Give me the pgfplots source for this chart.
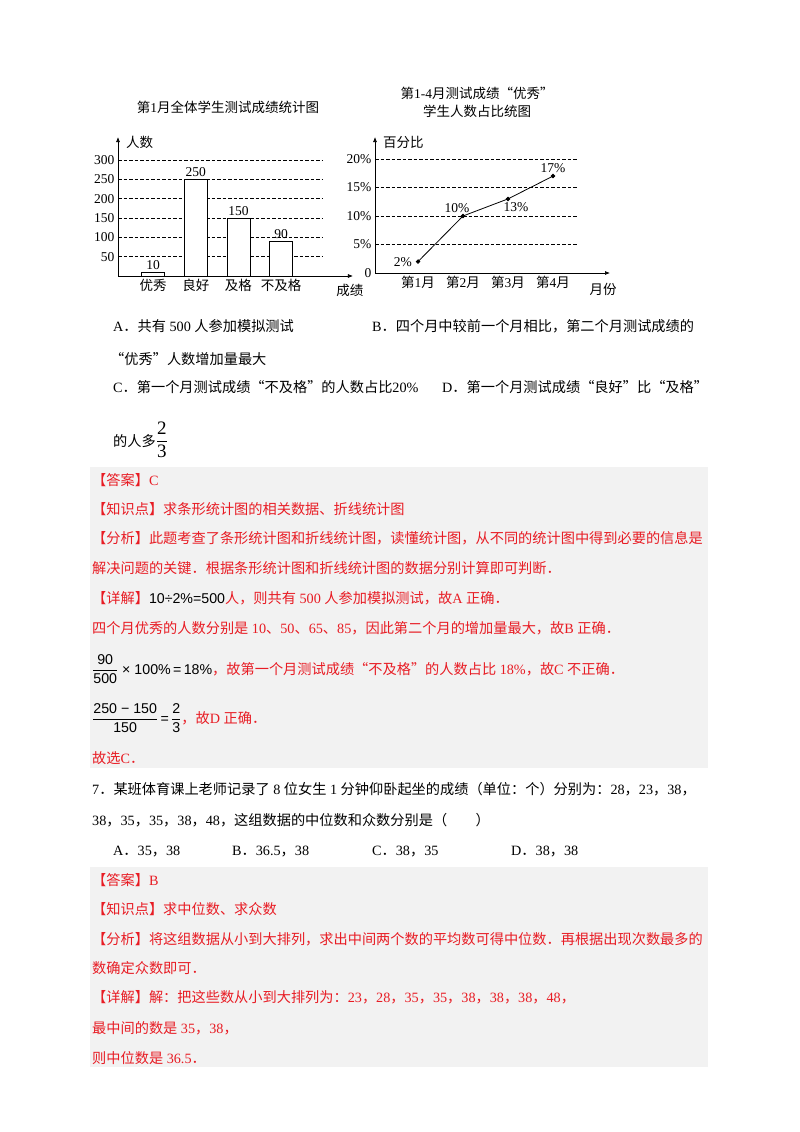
\documentclass[border=0pt]{standalone}
\usepackage{fontspec}
\setmainfont{Liberation Serif}
\newfontfamily\cjk{Noto Sans CJK SC}
\newfontfamily\arial{Liberation Sans}
\usepackage{pgfplots}
\pgfplotsset{compat=1.18}
\usetikzlibrary{arrows.meta}

% switch to the CJK font for Chinese characters automatically
\XeTeXinterchartokenstate=1
\newXeTeXintercharclass\cjkcls
\makeatletter
\count@="2E80
\loop\XeTeXcharclass\count@=\cjkcls \advance\count@ 1 \ifnum\count@<"A000 \repeat
\count@="FF00
\loop\XeTeXcharclass\count@=\cjkcls \advance\count@ 1 \ifnum\count@<"FFF0 \repeat
\makeatother
\XeTeXcharclass"201C=\cjkcls
\XeTeXcharclass"201D=\cjkcls
\XeTeXinterchartoks 0 \cjkcls = {\cjk}
\XeTeXinterchartoks 4095 \cjkcls = {\cjk}
\XeTeXinterchartoks \cjkcls 0 = {\rmfamily}
\XeTeXinterchartoks \cjkcls 4095 = {\rmfamily}

\definecolor{ansred}{RGB}{232,28,36}
\definecolor{boxgray}{RGB}{242,242,242}

\begin{document}
\begin{tikzpicture}[x=1pt,y=-1pt,
  q/.style={anchor=base west,inner sep=0pt,font=\fontsize{14.2}{16}\selectfont},
  a/.style={q,text=ansred},
  ct/.style={inner sep=0pt,font=\fontsize{13.5}{15}\selectfont}]
\fill[white] (0,0) rectangle (800,1132);
\path[use as bounding box] (0,0) rectangle (800,1132);

% chart titles
\node[ct] at (228,107) {第1月全体学生测试成绩统计图};
\node[ct] at (477,93) {第1-4月测试成绩“优秀”};
\node[ct] at (477,111) {学生人数占比统图};

% bar chart
\begin{axis}[at={(118pt,-276pt)},anchor=south west,scale only axis,
  width=235pt,height=139pt,
  xmin=-0.82,xmax=4.68,ymin=0,ymax=359.5,
  axis lines=left,
  axis line style={line width=0.7pt,-{Latex[length=5pt,width=4pt]}},
  xtick={0,1,2,3},xticklabels={优秀,良好,及格,不及格},
  ytick={50,100,150,200,250,300},yticklabels={50,100,150,200,250,300},
  major tick length=0pt,
  tick label style={font=\fontsize{13.5}{15}\selectfont},
  ylabel={人数},xlabel={成绩},
  every axis y label/.style={at={(rel axis cs:0,1)},anchor=north west,inner sep=0pt,xshift=8pt,yshift=1pt,font=\fontsize{13.5}{15}\selectfont},
  every axis x label/.style={at={(rel axis cs:1,0)},anchor=north,inner sep=0pt,xshift=-3pt,yshift=-8pt,font=\fontsize{13.5}{15}\selectfont},
  ybar,bar width=23pt,
  nodes near coords,
  every node near coord/.append style={font=\fontsize{13.5}{15}\selectfont,inner sep=2pt},
  /pgf/number format/assume math mode=true,
  clip=false]
\pgfplotsinvokeforeach{50,100,150,200,250,300}{
  \draw[line width=0.6pt,dash pattern=on 3.5pt off 2pt] (axis cs:-0.82,#1) -- (axis cs:3.96,#1);}
\addplot[draw=black,fill=white,line width=0.9pt] coordinates {(0,10) (1,250) (2,150) (3,90)};
\end{axis}

% line chart
\begin{axis}[at={(375pt,-273pt)},anchor=south west,scale only axis,
  width=235pt,height=136pt,
  xmin=0.044,xmax=5.267,ymin=0,ymax=23.86,
  axis lines=left,
  axis line style={line width=0.7pt,-{Latex[length=5pt,width=4pt]}},
  xtick={1,2,3,4},xticklabels={第1月,第2月,第3月,第4月},
  ytick={0,5,10,15,20},yticklabels={0,5\%,10\%,15\%,20\%},
  major tick length=0pt,
  tick label style={font=\fontsize{13.5}{15}\selectfont},
  ylabel={百分比},xlabel={月份},
  every axis y label/.style={at={(rel axis cs:0,1)},anchor=north west,inner sep=0pt,xshift=8pt,yshift=1pt,font=\fontsize{13.5}{15}\selectfont},
  every axis x label/.style={at={(rel axis cs:1,0)},anchor=north,inner sep=0pt,xshift=-7pt,yshift=-10pt,font=\fontsize{13.5}{15}\selectfont},
  clip=false]
\pgfplotsinvokeforeach{5,10,15,20}{
  \draw[line width=0.6pt,dash pattern=on 3.5pt off 2pt] (axis cs:0.044,#1) -- (axis cs:4.556,#1);}
\addplot[black,line width=0.8pt,mark=*,mark size=1.8pt] coordinates {(1,2) (2,10) (3,13) (4,17)};
\node[ct,anchor=east,xshift=-6pt] at (axis cs:1,2) {2\%};
\node[ct,anchor=south,xshift=-6pt,yshift=3pt] at (axis cs:2,10) {10\%};
\node[ct,anchor=north,xshift=8pt,yshift=-3pt] at (axis cs:3,13) {13\%};
\node[ct,anchor=south,yshift=3pt] at (axis cs:4,17) {17\%};
\end{axis}

% question 6 options
\node[q] at (113,331) {A．共有 500 人参加模拟测试};
\node[q] at (372,331) {B．四个月中较前一个月相比，第二个月测试成绩的};
\node[q] at (110,364) {“优秀”人数增加量最大};
\node[q] at (113,392) {C．第一个月测试成绩“不及格”的人数占比20\%};
\node[q] at (442,392) {D．第一个月测试成绩“良好”比“及格”};
\node[q] at (113,446) {的人多{\fontsize{19}{20}\selectfont$\displaystyle\frac{\mbox{2}}{\mbox{3}}$}};

% answer box 1
\fill[boxgray] (90,467) rectangle (708,768);
\node[a] at (92,485) {【答案】C};
\node[a] at (92,514) {【知识点】求条形统计图的相关数据、折线统计图};
\node[a] at (92,543) {【分析】此题考查了条形统计图和折线统计图，读懂统计图，从不同的统计图中得到必要的信息是};
\node[a] at (92,573) {解决问题的关键．根据条形统计图和折线统计图的数据分别计算即可判断．};
\node[a] at (92,603) {【详解】{\color{black}\arial 10÷2\%=500}人，则共有 500 人参加模拟测试，故A 正确．};
\node[a] at (92,633) {四个月优秀的人数分别是 10、50、65、85，因此第二个月的增加量最大，故B 正确．};
\node[a] at (92,674) {{\color{black}\arial$\displaystyle\frac{\mbox{90}}{\mbox{500}}$ × 100\%\,=\,18\%}，故第一个月测试成绩“不及格”的人数占比 18\%，故C 不正确．};
\node[a] at (92,723) {{\color{black}\arial$\displaystyle\frac{\mbox{250 − 150}}{\mbox{150}}$\,=\,$\displaystyle\frac{\mbox{2}}{\mbox{3}}$}，故D 正确．};
\node[a] at (92,763) {故选C．};

% question 7
\node[q] at (92,794) {7．某班体育课上老师记录了 8 位女生 1 分钟仰卧起坐的成绩（单位：个）分别为：28，23，38，};
\node[q] at (92,825) {38，35，35，38，48，这组数据的中位数和众数分别是（　　）};
\node[q] at (113,855) {A．35，38};
\node[q] at (232,855) {B．36.5，38};
\node[q] at (372,855) {C．38，35};
\node[q] at (511,855) {D．38，38};

% answer box 2
\fill[boxgray] (90,867) rectangle (708,1067);
\node[a] at (92,885) {【答案】B};
\node[a] at (92,914) {【知识点】求中位数、求众数};
\node[a] at (92,944) {【分析】将这组数据从小到大排列，求出中间两个数的平均数可得中位数．再根据出现次数最多的};
\node[a] at (92,973) {数确定众数即可．};
\node[a] at (92,1002) {【详解】解：把这些数从小到大排列为：23，28，35，35，38，38，38，48，};
\node[a] at (92,1033) {最中间的数是 35，38，};
\node[a] at (92,1063) {则中位数是 36.5．};
\end{tikzpicture}
\end{document}
